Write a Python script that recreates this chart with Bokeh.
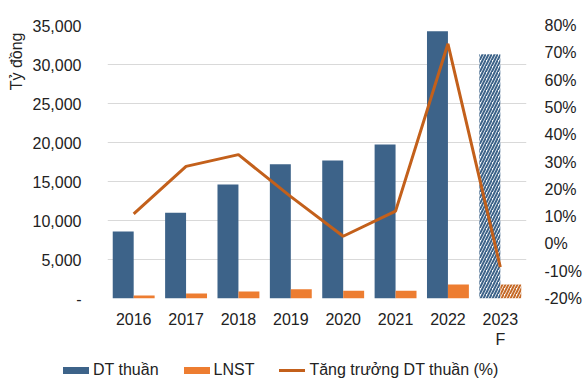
from bokeh.plotting import figure
from bokeh.models import (ColumnDataSource, FactorRange, Range1d, LinearAxis, FixedTicker,
                          PrintfTickFormatter, Title, Div)
from bokeh.layouts import column
from bokeh.embed import file_html
from bokeh.resources import INLINE
from bokeh.transform import dodge

years = ["2016", "2017", "2018", "2019", "2020", "2021", "2022", "2023\nF"]
dt_thuan = [8600, 11000, 14600, 17200, 17700, 19750, 34250, 31300]
lnst = [400, 650, 900, 1200, 1000, 1000, 1800, 1800]
growth = [11.0, 28.4, 32.7, 17.3, 2.8, 12.0, 73.3, -8.5]
forecast = [False] * 7 + [True]
series_names = ["DT thuần", "LNST", "Tăng trưởng DT thuần (%)"]

left_ticks = [0, 5000, 10000, 15000, 20000, 25000, 30000, 35000]
left_labels = ["-", "5,000", "10,000", "15,000", "20,000", "25,000", "30,000", "35,000"]
right_ticks = [-20, -10, 0, 10, 20, 30, 40, 50, 60, 70, 80]

BLUE = "#3D6389"
ORANGE = "#ED7D31"
LINE = "#C3601B"
HATCH_OR = "#C66A28"
FONT = "Liberation Sans"
TXT = "#222222"

act = [i for i, f in enumerate(forecast) if not f]
fc = [i for i, f in enumerate(forecast) if f]

src_a = ColumnDataSource(dict(x=[years[i] for i in act], dt=[dt_thuan[i] for i in act],
                              ln=[lnst[i] for i in act]))
src_f = ColumnDataSource(dict(x=[years[i] for i in fc], dt=[dt_thuan[i] for i in fc],
                              ln=[lnst[i] for i in fc]))
src_g = ColumnDataSource(dict(x=years, g=growth))

p = figure(x_range=FactorRange(*years, range_padding=0), y_range=Range1d(0, 35000),
           width=587, height=355, output_backend="svg", toolbar_location=None,
           min_border_left=104, min_border_right=61, min_border_top=25, min_border_bottom=57)
p.outline_line_color = None
p.background_fill_color = "white"
p.border_fill_color = "white"

p.extra_y_ranges = {"pct": Range1d(-20, 80)}

w = 0.4
p.vbar(x=dodge("x", -w / 2, range=p.x_range), top="dt", width=w, source=src_a,
       fill_color=BLUE, line_color=None)
p.vbar(x=dodge("x", w / 2, range=p.x_range), top="ln", width=w, source=src_a,
       fill_color=ORANGE, line_color=None)
p.vbar(x=dodge("x", -w / 2, range=p.x_range), top="dt", width=w, source=src_f,
       fill_color="white", line_color=None, hatch_pattern="/", hatch_color=BLUE,
       hatch_scale=6, hatch_weight=2)
p.vbar(x=dodge("x", w / 2, range=p.x_range), top="ln", width=w, source=src_f,
       fill_color="white", line_color=None, hatch_pattern="/", hatch_color=HATCH_OR,
       hatch_scale=6, hatch_weight=2)
p.line(x="x", y="g", source=src_g, y_range_name="pct", line_color=LINE, line_width=3)

ya = p.yaxis[0]
ya.ticker = FixedTicker(ticks=left_ticks)
ya.major_label_overrides = {t: l for t, l in zip(left_ticks, left_labels)}
ya.axis_line_color = None
ya.major_tick_line_color = None
ya.minor_tick_line_color = None
ya.major_label_standoff = 20
ya.major_label_text_font = FONT
ya.major_label_text_font_size = "16px"
ya.major_label_text_color = TXT

p.add_layout(Title(text="Tỷ đồng", align="right", offset=7, standoff=10, text_font=FONT,
                   text_font_size="16px", text_font_style="normal", text_color=TXT), "left")

ra = LinearAxis(y_range_name="pct", ticker=FixedTicker(ticks=right_ticks),
                formatter=PrintfTickFormatter(format="%d%%"))
ra.axis_line_color = None
ra.major_tick_line_color = None
ra.minor_tick_line_color = None
ra.major_label_standoff = 12
ra.major_label_text_font = FONT
ra.major_label_text_font_size = "16px"
ra.major_label_text_color = TXT
p.add_layout(ra, "right")

xa = p.xaxis[0]
xa.axis_line_color = None
xa.major_tick_line_color = None
xa.minor_tick_line_color = None
xa.major_label_standoff = 6
xa.major_label_text_font = FONT
xa.major_label_text_font_size = "16px"
xa.major_label_text_color = TXT

p.xgrid.grid_line_color = None
p.ygrid.ticker = FixedTicker(ticks=left_ticks)
p.ygrid.grid_line_color = "#D9D9D9"
p.ygrid.grid_line_width = 1

# legend strip below the chart
swatches = [(BLUE, 7), (ORANGE, 7), (LINE, 3)]
parts = []
for k, (name, (col, hgt)) in enumerate(zip(series_names, swatches)):
    ml = 0 if k == 0 else 25
    parts.append(
        f'<span style="display:inline-block;width:26px;height:{hgt}px;background:{col};'
        f'vertical-align:middle;margin-left:{ml}px"></span>'
        f'<span style="margin-left:4px">{name}</span>')
html = (f'<div style="font-family:\'{FONT}\';font-size:16px;color:{TXT};white-space:nowrap;'
        f'padding-left:63px;line-height:30px;height:30px">' + "".join(parts) + "</div>")
lg = Div(text=html, width=587, height=30, margin=0)

layout = column(p, lg, spacing=0)
open("out.html", "w").write(file_html(layout, INLINE))
